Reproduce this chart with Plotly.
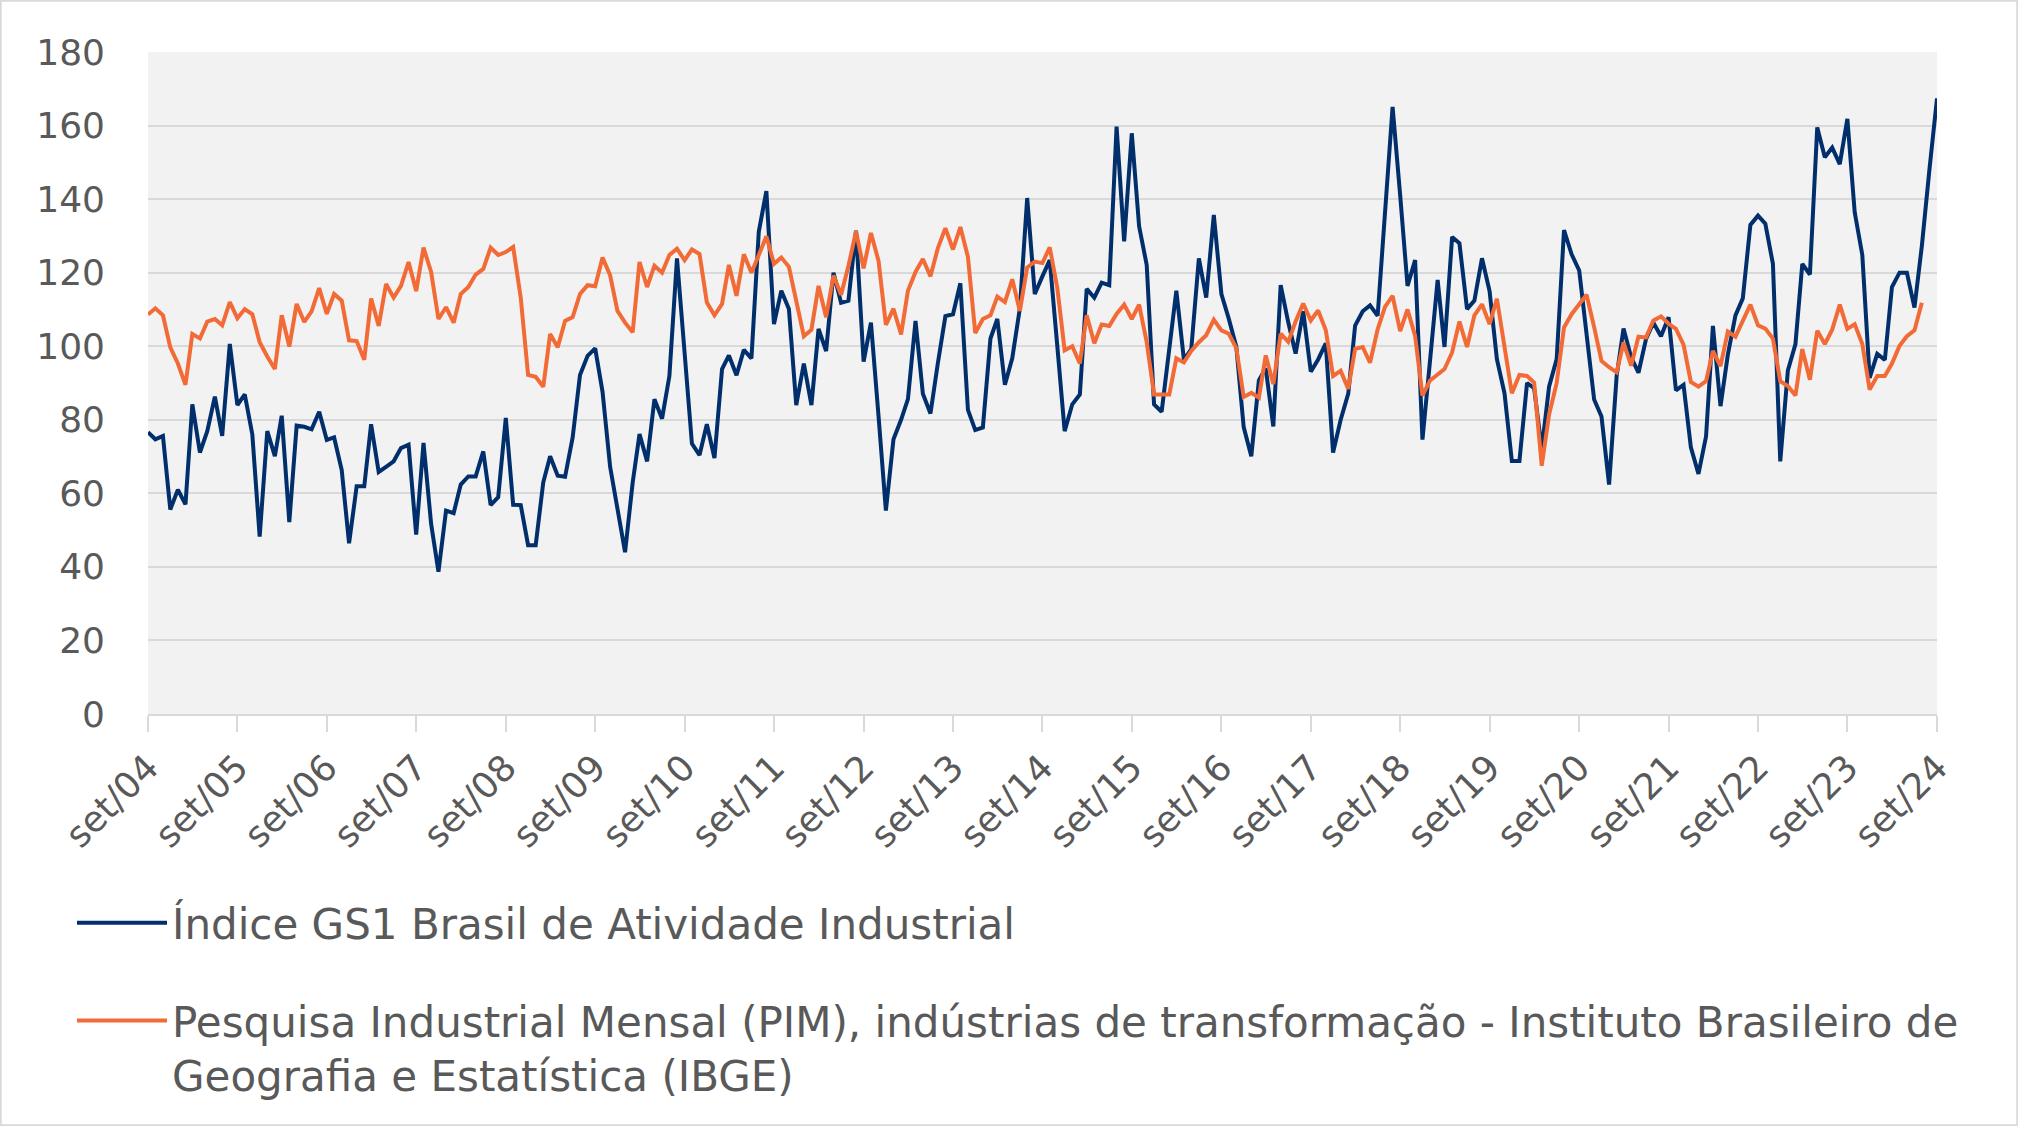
import pandas as pd
import plotly.graph_objects as go

# Monthly data, set/2004 .. set/2024
start_month = "2004-09-01"

gs1_index = [
    76.6, 74.7, 75.6, 55.6, 61.0, 57.0, 84.2, 71.1, 76.9, 86.3, 75.6, 100.6,
    84.0, 86.9, 76.0, 48.2, 76.9, 70.1, 81.1, 52.2, 78.4, 78.1, 77.4, 82.2,
    74.5, 75.2, 66.3, 46.4, 61.9, 61.9, 78.8, 65.8, 67.2, 68.7, 72.3, 73.2,
    48.8, 73.7, 51.7, 38.7, 55.3, 54.6, 62.4, 64.6, 64.6, 71.4, 56.8, 59.0,
    80.5, 56.9, 56.8, 45.9, 45.9, 63.0, 70.1, 64.8, 64.5, 75.2, 92.2, 97.4,
    99.4, 87.6, 67.2, 56.1, 44.0, 62.9, 76.1, 68.7, 85.6, 80.3, 91.9, 123.9,
    98.7, 73.5, 70.4, 78.8, 69.6, 93.8, 97.5, 92.1, 99.0, 96.7, 131.1, 142.2,
    106.0, 115.1, 110.1, 84.0, 95.3, 84.0, 104.7, 98.7, 120.0, 111.8, 112.4, 131.4,
    95.8, 106.4, 81.0, 55.3, 74.7, 80.0, 85.6, 106.9, 87.1, 81.7, 95.3, 108.2,
    108.7, 117.1, 82.7, 77.2, 77.9, 102.1, 107.4, 89.5, 96.7, 110.3, 140.3, 114.2,
    119.0, 123.4, 100.0, 76.9, 84.2, 86.9, 115.6, 113.2, 117.3, 116.6, 159.7, 128.5,
    157.9, 132.6, 122.1, 84.2, 82.2, 99.7, 115.1, 96.3, 99.2, 123.9, 113.2, 135.7,
    114.2, 107.5, 99.8, 78.0, 70.1, 90.7, 94.0, 78.2, 116.6, 106.5, 98.0, 109.5,
    93.1, 96.4, 100.8, 71.1, 80.0, 87.1, 105.6, 109.5, 111.1, 108.3, 137.0, 165.1,
    141.0, 116.4, 123.4, 74.6, 96.2, 118.0, 99.8, 129.7, 128.0, 110.1, 112.4, 123.9,
    115.0, 96.5, 87.2, 68.8, 68.8, 90.0, 88.6, 72.0, 89.0, 96.5, 131.6, 125.0,
    120.6, 103.0, 85.5, 80.9, 62.4, 92.0, 104.8, 97.0, 92.8, 102.0, 106.4, 102.7,
    107.9, 88.0, 89.5, 72.5, 65.3, 75.5, 105.5, 83.7, 97.7, 108.4, 113.0, 133.0,
    135.5, 133.3, 122.4, 68.7, 93.4, 100.6, 122.4, 119.5, 159.5, 151.4, 154.0, 149.5,
    161.8, 136.4, 124.8, 91.4, 97.9, 96.3, 116.1, 120.0, 120.0, 110.5, 127.2, 148.0,
    167.4,
]

pim_ibge = [
    108.6, 110.3, 108.4, 99.7, 95.3, 89.5, 103.3, 102.1, 106.7, 107.4, 105.7, 112.0,
    107.6, 110.1, 108.7, 101.1, 97.2, 93.8, 108.4, 99.9, 111.5, 106.6, 109.5, 115.8,
    108.8, 114.2, 112.4, 101.6, 101.4, 96.3, 113.0, 105.5, 116.9, 113.2, 116.4, 122.9,
    115.0, 126.8, 120.2, 107.4, 110.6, 106.4, 114.2, 116.1, 119.5, 121.0, 126.8, 124.8,
    125.6, 127.0, 113.2, 92.2, 91.7, 89.0, 103.3, 99.7, 106.9, 107.9, 114.2, 116.6,
    116.3, 124.1, 119.3, 109.6, 106.4, 103.8, 122.9, 116.1, 121.9, 120.0, 124.8, 126.5,
    123.4, 126.3, 125.1, 111.9, 108.4, 111.5, 122.1, 113.7, 125.0, 120.0, 124.8, 129.9,
    122.4, 124.1, 121.6, 112.2, 102.7, 104.5, 116.4, 107.9, 119.2, 114.0, 121.8, 131.2,
    121.2, 130.8, 123.2, 105.8, 110.2, 103.2, 115.1, 120.2, 123.7, 119.0, 126.6, 132.1,
    126.3, 132.4, 124.3, 103.6, 107.4, 108.4, 113.5, 112.0, 118.2, 109.6, 121.4, 123.0,
    122.6, 126.9, 115.8, 98.9, 100.0, 95.3, 108.4, 100.8, 105.9, 105.5, 108.8, 111.3,
    107.4, 111.3, 101.1, 86.9, 86.9, 86.9, 96.7, 95.6, 98.7, 101.1, 103.0, 107.2,
    104.3, 103.4, 99.5, 86.2, 87.3, 86.0, 97.5, 89.7, 103.4, 101.2, 106.7, 111.6,
    107.0, 109.7, 104.4, 91.9, 93.3, 88.4, 99.3, 99.8, 95.5, 104.6, 110.7, 113.7,
    104.1, 110.0, 102.8, 86.6, 90.7, 92.2, 93.8, 98.3, 106.7, 99.8, 108.4, 111.4,
    106.0, 112.9, 100.3, 87.2, 92.2, 91.9, 90.1, 67.5, 81.4, 90.0, 105.1, 108.7,
    111.4, 114.0, 105.2, 96.0, 94.3, 92.9, 101.0, 94.7, 102.6, 102.4, 107.0, 108.1,
    106.1, 104.7, 100.4, 90.3, 89.0, 90.5, 98.7, 94.6, 104.0, 102.6, 106.9, 111.3,
    105.7, 104.8, 102.1, 90.5, 89.2, 86.6, 99.2, 90.9, 104.2, 100.6, 104.5, 111.3,
    104.7, 106.0, 100.6, 88.2, 91.9, 91.9, 95.3, 100.1, 102.7, 104.3, 111.8,
]

tick_labels = ["set/04", "set/05", "set/06", "set/07", "set/08", "set/09", "set/10",
               "set/11", "set/12", "set/13", "set/14", "set/15", "set/16", "set/17",
               "set/18", "set/19", "set/20", "set/21", "set/22", "set/23", "set/24"]

series_names = [
    "Índice GS1 Brasil de Atividade Industrial",
    "Pesquisa Industrial Mensal (PIM), indústrias de transformação - Instituto Brasileiro de<br>Geografia e Estatística (IBGE)",
]

months = pd.date_range(start_month, periods=len(gs1_index), freq="MS")
tick_vals = pd.date_range(start_month, periods=len(tick_labels), freq="12MS")

W, H = 2018, 1126
ML, MR, MT, MB = 148, 81, 52, 412
pw, ph = W - ML - MR, H - MT - MB

fig = go.Figure()
fig.add_trace(go.Scatter(
    x=months, y=gs1_index, mode="lines", name=series_names[0],
    line=dict(color="#002F6C", width=4), legendgroup="a",
))
fig.add_trace(go.Scatter(
    x=months[:len(pim_ibge)], y=pim_ibge, mode="lines", name=series_names[1],
    line=dict(color="#F26A36", width=4), legendgroup="b",
))

fig.update_layout(
    width=W, height=H,
    margin=dict(l=ML, r=MR, t=MT, b=MB, pad=0),
    paper_bgcolor="white",
    plot_bgcolor="#F2F2F2",
    font=dict(family="DejaVu Sans, Verdana, sans-serif", size=36, color="#595959"),
    showlegend=True,
    legend=dict(
        x=(72 - ML) / pw, xanchor="left",
        y=-(889 - (H - MB)) / ph, yanchor="top",
        orientation="v", valign="top",
        itemwidth=90, tracegroupgap=40,
        font=dict(size=42, color="#595959"),
        bgcolor="rgba(0,0,0,0)",
    ),
    xaxis=dict(
        range=[months[0], months[-1]],
        tickvals=tick_vals, ticktext=tick_labels,
        tickangle=-45,
        showgrid=False, zeroline=False,
        showline=True, linecolor="#D9D9D9", linewidth=2,
        ticks="outside", ticklen=16, tickcolor="#D9D9D9", tickwidth=2,
        tickfont=dict(size=36, color="#595959"),
    ),
    yaxis=dict(
        range=[0, 180], dtick=20, tick0=0,
        showgrid=True, gridcolor="#D9D9D9", gridwidth=2,
        zeroline=False, showline=False,
        ticks="", ticklabelstandoff=42,
        tickfont=dict(size=36, color="#595959"),
    ),
    shapes=[dict(
        type="rect", xref="paper", yref="paper",
        x0=-ML / pw + 0.0004, x1=(W - ML) / pw - 0.0004,
        y0=-MB / ph + 0.0012, y1=(H - MB) / ph - 0.0012,
        line=dict(color="#D9D9D9", width=2), fillcolor="rgba(0,0,0,0)", layer="below",
    )],
)

fig.write_html("out.html", config={"displayModeBar": False},
               post_script="document.body.style.margin='0';")
